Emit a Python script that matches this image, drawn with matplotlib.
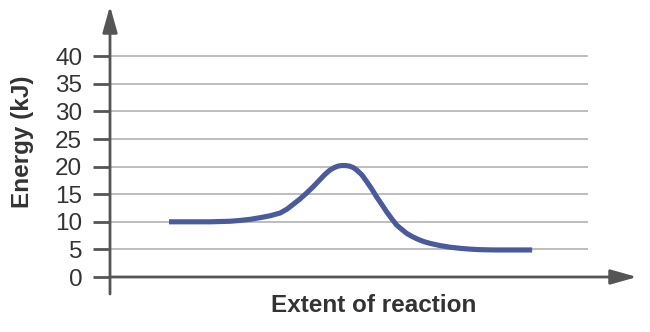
import matplotlib
matplotlib.use("Agg")
import matplotlib.pyplot as plt

# Data
extent = [11.2, 15.2, 19.0, 20.9, 22.8, 24.7, 26.6, 28.5, 30.4, 32.3, 33.6, 34.8, 36.0,
          37.3, 38.6, 39.8, 40.8, 41.7, 42.5, 43.3, 44.0, 44.6, 45.4, 46.1, 46.8,
          47.8, 48.7, 49.7, 50.6, 51.6, 52.5, 53.5, 54.4, 55.4, 56.3, 57.4, 58.5,
          59.6, 60.7, 62.6, 64.5, 66.4, 68.3, 70.2, 73.0, 76.0, 80.1]
energy = [10.0, 10.0, 10.0, 10.05, 10.1, 10.25, 10.45, 10.75, 11.1, 11.6, 12.3, 13.2, 14.1,
          15.2, 16.4, 17.6, 18.6, 19.35, 19.8, 20.1, 20.2, 20.2, 20.1, 19.85, 19.4,
          18.5, 17.3, 15.9, 14.5, 13.1, 11.8, 10.5, 9.4, 8.6, 7.9, 7.3, 6.8,
          6.4, 6.1, 5.7, 5.4, 5.2, 5.05, 4.95, 4.9, 4.9, 4.9]
yticks = [0, 5, 10, 15, 20, 25, 30, 35, 40]
ytick_labels = [str(v) for v in yticks]

plt.rcParams['font.family'] = ['Liberation Sans', 'DejaVu Sans']

W, H = 650, 332
fig = plt.figure(figsize=(W / 100, H / 100), dpi=100)
ax = fig.add_axes([110 / W, (H - 294) / H, 527 / W, (294 - 6) / H])
ax.set_xlim(0, 100)
ax.set_ylim(-3.08, 49.1)

axis_col = '#555555'
grid_col = '#bdbdbd'

# gridlines
ax.hlines(yticks[1:], 0, 90.7, colors=grid_col, linewidth=1.4, zorder=1)

# curve
ax.plot(extent, energy, color='#4a5a9b', linewidth=3.7, solid_capstyle='butt',
        solid_joinstyle='round', zorder=3)

# axes with arrows
for s in ax.spines.values():
    s.set_visible(False)
ax.annotate('', xy=(1.0, 0), xycoords=('axes fraction', 'data'),
            xytext=(0.0, 0), textcoords=('axes fraction', 'data'),
            arrowprops=dict(arrowstyle='-|>,head_length=1.6,head_width=0.45',
                            mutation_scale=10, color=axis_col, lw=2,
                            shrinkA=0, shrinkB=0), zorder=4)
ax.annotate('', xy=(0, 1.0), xycoords='axes fraction',
            xytext=(0, 0.0), textcoords='axes fraction',
            arrowprops=dict(arrowstyle='-|>,head_length=1.6,head_width=0.45',
                            mutation_scale=10, color=axis_col, lw=2,
                            shrinkA=0, shrinkB=0), zorder=4)

ax.set_xticks([])
ax.set_yticks(yticks)
ax.set_yticklabels(ytick_labels, fontsize=17.5, color='#333333')
ax.tick_params(axis='y', length=12, width=2, color=axis_col, pad=8)

fig.text(374 / W, 1 - 305 / H, 'Extent of reaction', ha='center', va='center',
         fontsize=17.5, fontweight='bold', color='#333333')
fig.text(22 / W, 1 - 142 / H, 'Energy (kJ)', ha='center', va='center', rotation=90,
         fontsize=17.5, fontweight='bold', color='#333333')

fig.savefig('out.png', dpi=100)
